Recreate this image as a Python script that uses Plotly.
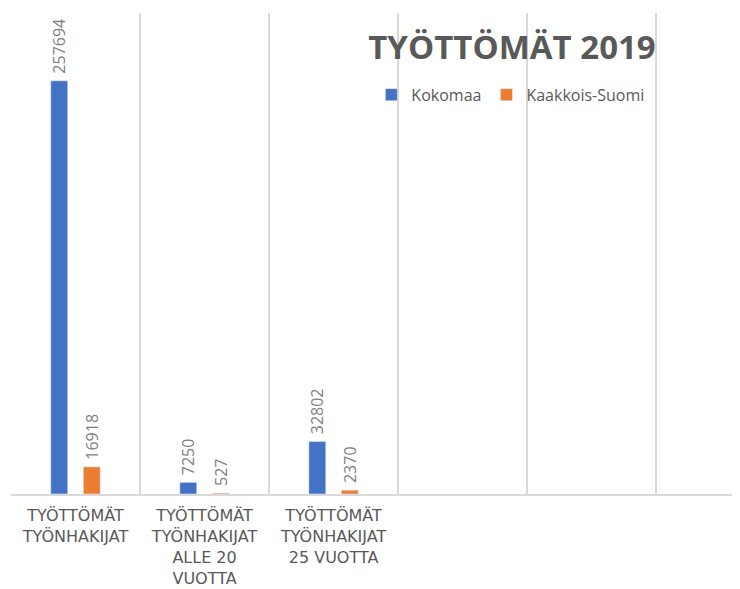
"""Työttömät 2019 - grouped bar chart."""

import plotly.graph_objects as go

categories = [
    "TYÖTTÖMÄT<br>TYÖNHAKIJAT",
    "TYÖTTÖMÄT<br>TYÖNHAKIJAT<br>ALLE 20<br>VUOTTA",
    "TYÖTTÖMÄT<br>TYÖNHAKIJAT<br>25 VUOTTA",
    " ",
    "  ",
    "   ",
]
kokomaa = [257694, 7250, 32802, None, None, None]
kaakkois_suomi = [16918, 527, 2370, None, None, None]

BLUE = "#4472c4"
ORANGE = "#ed7d31"
GRID = "#d9d9d9"
TEXT = "#595959"
LABEL = "#7f7f7f"
FONT = "Open Sans"

# the page body adds an 8px offset, margins below are compensated for it
fig = go.Figure()
for name, vals, color in [
    ("Kokomaa", kokomaa, BLUE),
    ("Kaakkois-Suomi", kaakkois_suomi, ORANGE),
]:
    fig.add_trace(
        go.Bar(
            x=categories,
            y=vals,
            name=name,
            marker={"color": color},
            # small leading pad so the label sits a bit above the bar
            text=["\u00a0" + str(v) if v is not None else "" for v in vals],
            textposition="outside",
            textangle=-90,
            constraintext="none",
            cliponaxis=False,
            textfont={"family": FONT, "size": 16, "color": LABEL},
        )
    )

fig.update_layout(
    width=740,
    height=589,
    paper_bgcolor="white",
    plot_bgcolor="white",
    barmode="group",
    bargap=0.496,
    bargroupgap=0.48,
    margin={"l": 3, "r": 8, "t": 5, "b": 103, "autoexpand": False},
    font={"family": FONT, "color": TEXT},
    title={
        "text": "<b>TYÖTTÖMÄT 2019</b>",
        "font": {"family": FONT, "size": 33, "color": TEXT},
        "x": 504 / 740,
        "xanchor": "center",
        "xref": "container",
        "y": 1 - 39 / 589,
        "yanchor": "middle",
        "yref": "container",
    },
    legend={
        "orientation": "h",
        "x": 0.685,
        "xanchor": "center",
        "y": 0.83,
        "yanchor": "middle",
        "font": {"family": FONT, "size": 16, "color": TEXT},
        "bgcolor": "rgba(0,0,0,0)",
    },
    xaxis={
        "type": "category",
        "range": [-0.5, 5.15],
        "tickson": "boundaries",
        "automargin": False,
        "showgrid": True,
        "gridcolor": GRID,
        "gridwidth": 1.5,
        "showline": True,
        "linecolor": GRID,
        "linewidth": 2,
        "ticks": "",
        "ticklabelstandoff": 6,
        "tickfont": {"family": "DejaVu Sans", "size": 16, "color": TEXT},
    },
    yaxis={
        "range": [0, 300000],
        "visible": False,
        "showgrid": False,
    },
)

fig.write_html("out.html")
